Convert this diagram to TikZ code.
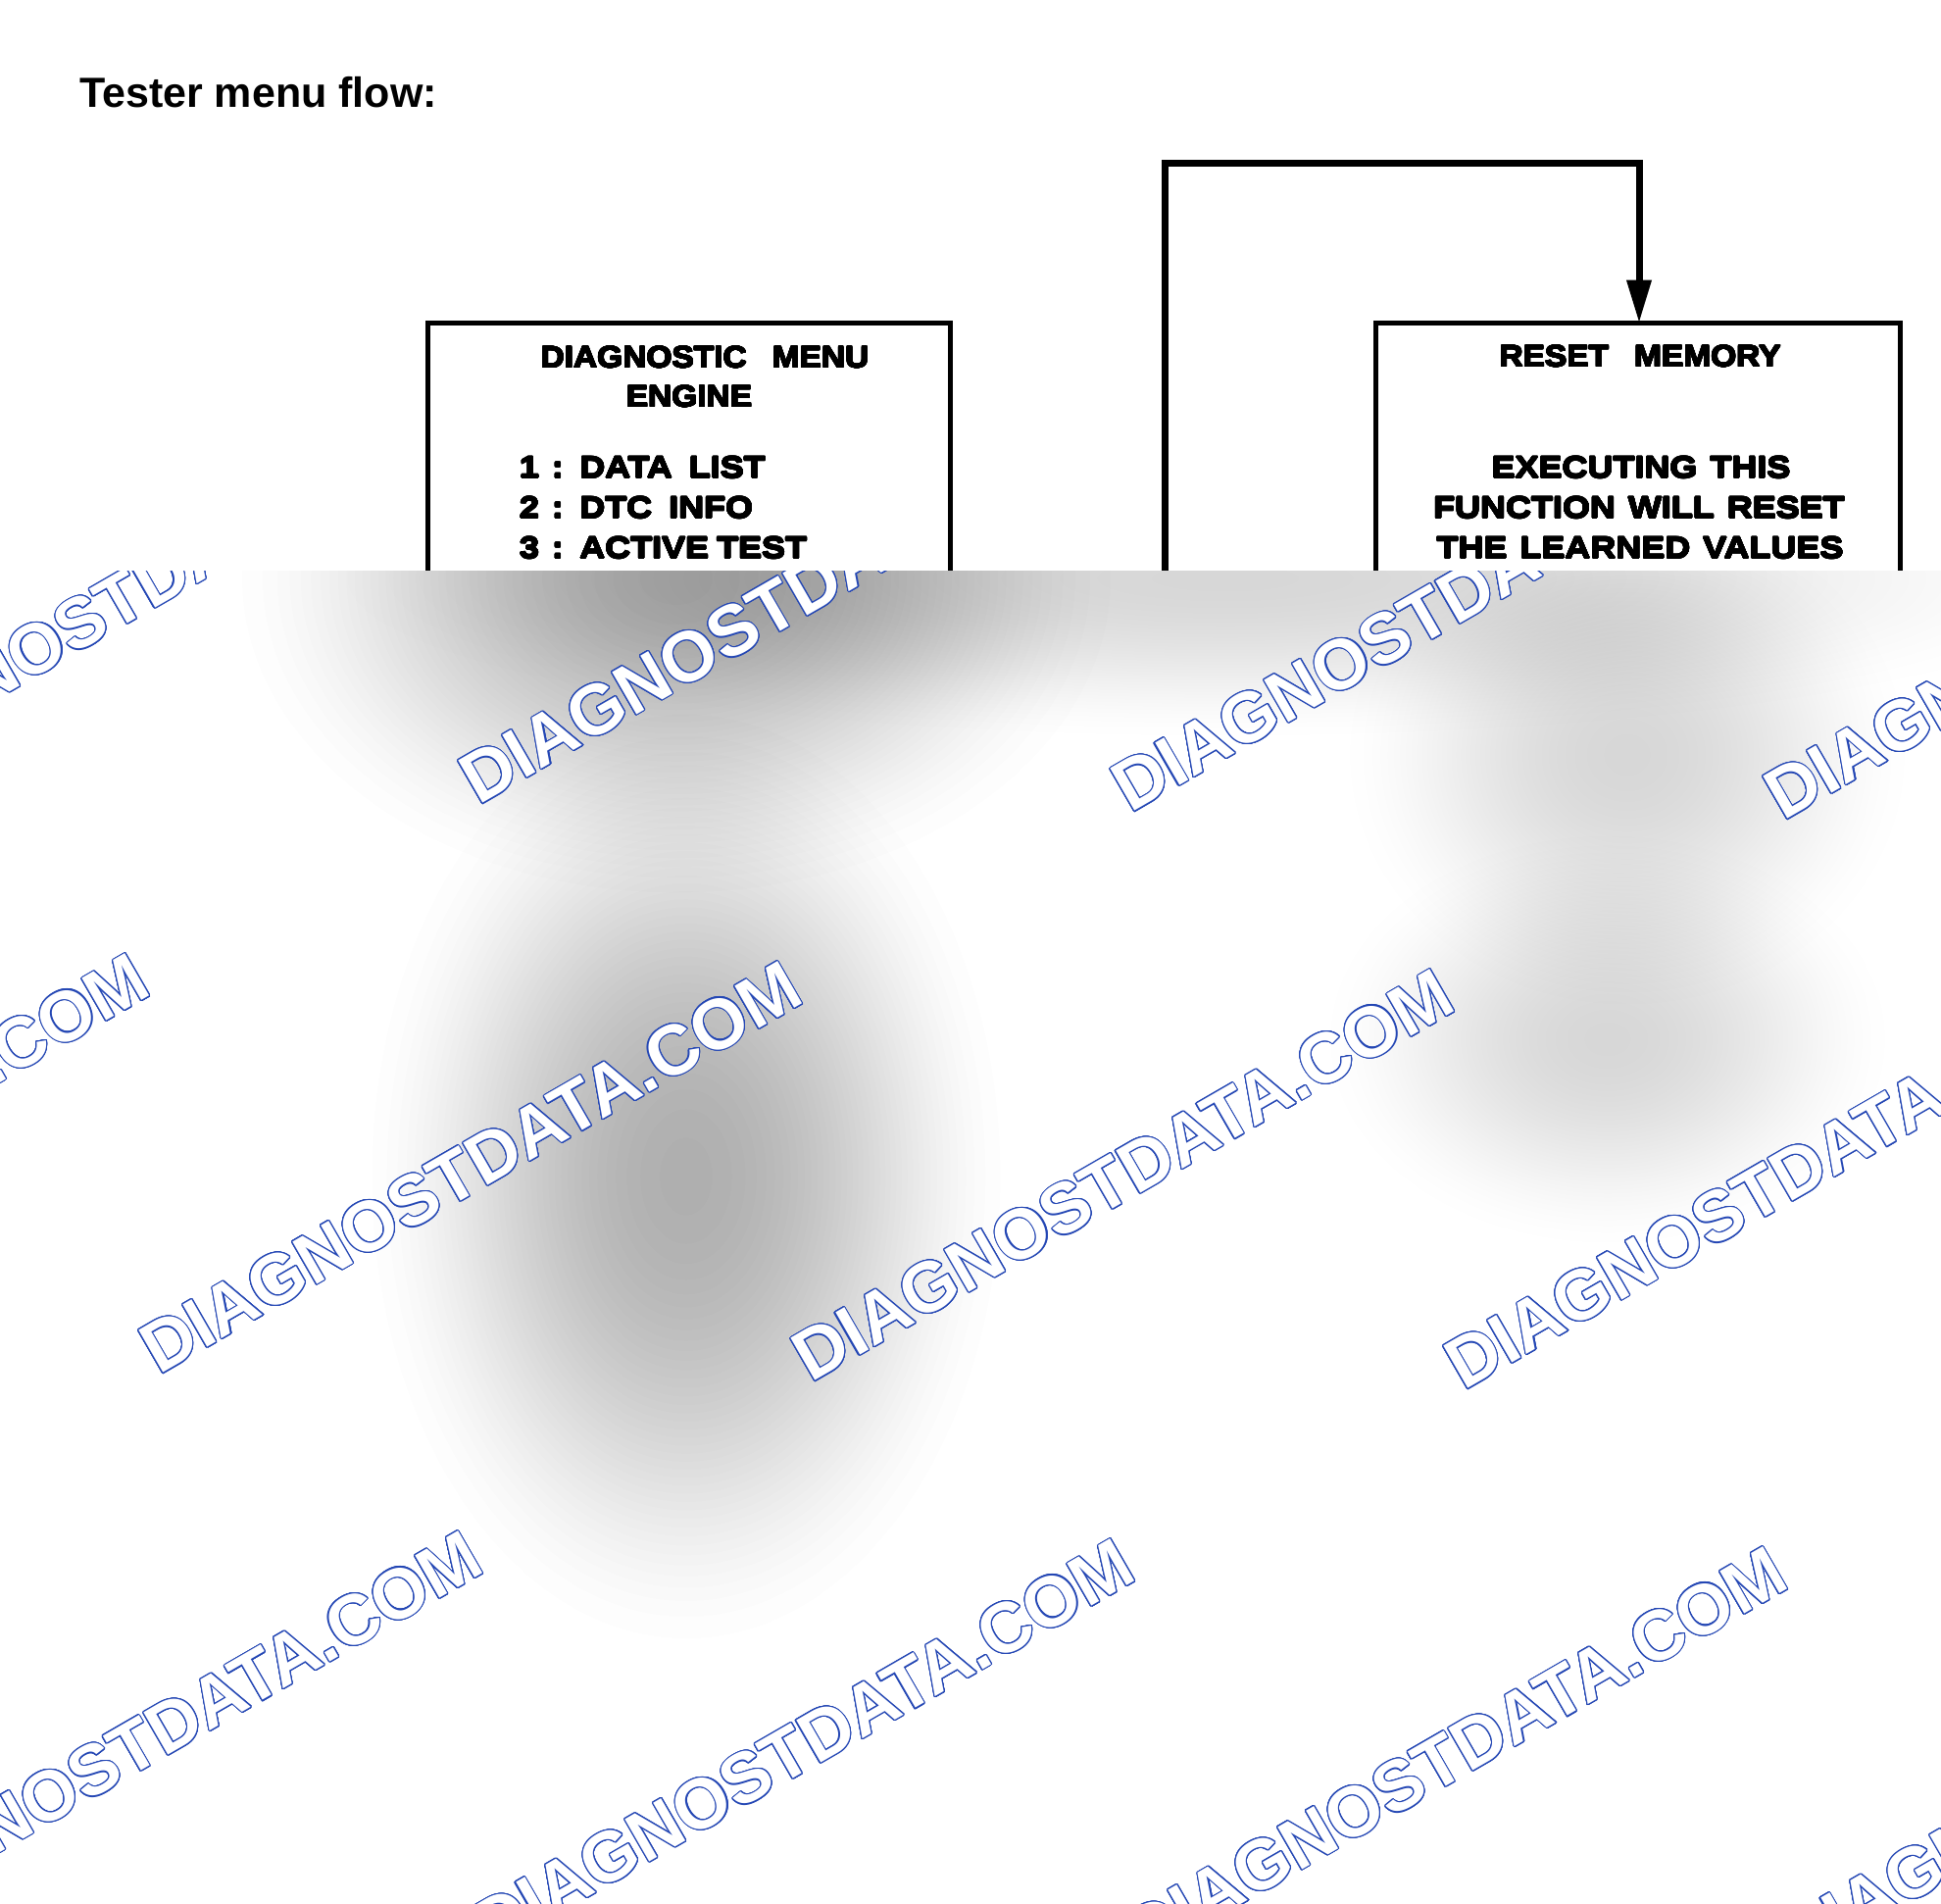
\documentclass[tikz,border=0pt]{standalone}
\usepackage{fontspec}
\setmainfont{Liberation Sans}
\newfontfamily\boxfont[FakeStretch=1.16]{Liberation Sans}
\newfontfamily\headfont[FakeStretch=1.08]{Liberation Sans}
\usepackage{contour}
\contournumber{24}
\contourlength{1.1pt}
\newcommand\mfont{\boxfont\bfseries\fontsize{31}{40}\selectfont\spaceskip 0.42em\relax}
\newcommand\hfont{\headfont\bfseries\fontsize{31}{40}\selectfont\spaceskip 0.42em\relax}
\newcommand\heavy[1]{{\contourlength{0.55pt}\contour{black}{#1}}}
\usetikzlibrary{arrows.meta}
\definecolor{wmblue}{RGB}{35,70,180}
\newcommand\grayblob[5]{%
  \foreach \k in {1,...,40}{%
    \fill[black, fill opacity=#5] (#1,#2) ellipse [x radius={#3*sqrt(1-sqrt((\k-0.5)/40))}, y radius={#4*sqrt(1-sqrt((\k-0.5)/40))}];}}
\begin{document}
\begin{tikzpicture}[x=1pt,y=-1pt,
  box/.style={draw=black, line width=5pt, inner sep=0pt, outer sep=0pt},
  mtext/.style={inner sep=0pt, outer sep=0pt, font=\mfont},
  htext/.style={inner sep=0pt, outer sep=0pt, font=\hfont},
  conn/.style={draw=black, line width=7pt, -{Triangle[width=24pt,length=44pt]}},
  wm/.style={anchor=base west, rotate=30, inner sep=0pt, text=white, font=\bfseries\fontsize{72.5}{80}\selectfont}
]
\useasboundingbox (0,0) rectangle (1980,1941);
\fill[white] (0,0) rectangle (1980,1941);
\node[anchor=base west, inner sep=0pt, font=\bfseries\fontsize{43}{50}\selectfont] (title) at (81,109) {Tester menu flow:};

% boxes
\node[box, minimum width=533pt, minimum height=470pt] (menu) at (702.5,564) {};
\node[box, minimum width=535pt, minimum height=470pt] (reset) at (1670.5,564.5) {};

% texts
\node[htext, anchor=base] (m1) at (719,375) {\heavy{DIAGNOSTIC~~MENU}};
\node[htext, anchor=base] (m2) at (703,415) {\heavy{ENGINE}};
\node[mtext, anchor=base west] (m3) at (530,487.5) {\heavy{1 : DATA{\spaceskip 0.55em\relax\ }LIST}};
\node[mtext, anchor=base west] (m4) at (530,528.5) {\heavy{2 : DTC{\spaceskip 0.55em\relax\ }INFO}};
\node[mtext, anchor=base west] (m5) at (530,569.5) {\heavy{3 : ACTIVE{\spaceskip 0.26em\relax\ }TEST}};
\node[htext, anchor=base] (r1) at (1673,374) {\heavy{RESET~~MEMORY}};
\node[mtext, anchor=base] (r2) at (1674,487.5) {\heavy{EXECUTING THIS}};
\node[mtext, anchor=base] (r3) at (1672,528.5) {\heavy{FUNCTION WILL RESET}};
\node[mtext, anchor=base] (r4) at (1673,569.5) {\heavy{THE LEARNED VALUES}};

% connector
\coordinate (loopsrc) at (1188,900);
\coordinate (loopturn) at (1672,166);
\draw[conn] (loopsrc) |- (loopturn) -- (reset.north -| loopturn);

% overlay
\fill[white] (0,582) rectangle (1980,1941);
\begin{scope}
\clip (0,582) rectangle (1980,1941);
\grayblob{1250}{590}{950}{170}{0.0020}
\grayblob{690}{590}{470}{340}{0.0088}
\grayblob{700}{1200}{340}{500}{0.0066}
\grayblob{1660}{770}{300}{270}{0.0050}
\grayblob{1640}{1060}{300}{220}{0.0022}
\grayblob{60}{1900}{460}{360}{0.0018}
\grayblob{1450}{1350}{750}{380}{0.0008}

\node[wm] (wa0) at (-177.5,814) {\contour{wmblue}{DIAGNOSTDATA.COM}};
\node[wm] (wa1) at (488,822) {\contour{wmblue}{DIAGNOSTDATA.COM}};
\node[wm] (wa2) at (1153.5,830) {\contour{wmblue}{DIAGNOSTDATA.COM}};
\node[wm] (wa3) at (1819,838) {\contour{wmblue}{DIAGNOSTDATA.COM}};
\node[wm] (wb0) at (-503.5,1395) {\contour{wmblue}{DIAGNOSTDATA.COM}};
\node[wm] (wb1) at (162,1403) {\contour{wmblue}{DIAGNOSTDATA.COM}};
\node[wm] (wb2) at (827.5,1411) {\contour{wmblue}{DIAGNOSTDATA.COM}};
\node[wm] (wb3) at (1493,1419) {\contour{wmblue}{DIAGNOSTDATA.COM}};
\node[wm] (wc1) at (-164,1984) {\contour{wmblue}{DIAGNOSTDATA.COM}};
\node[wm] (wc2) at (501.5,1992) {\contour{wmblue}{DIAGNOSTDATA.COM}};
\node[wm] (wc3) at (1167,2000) {\contour{wmblue}{DIAGNOSTDATA.COM}};
\node[wm] (wc4) at (1832.5,2008) {\contour{wmblue}{DIAGNOSTDATA.COM}};
\end{scope}
\end{tikzpicture}
\end{document}
